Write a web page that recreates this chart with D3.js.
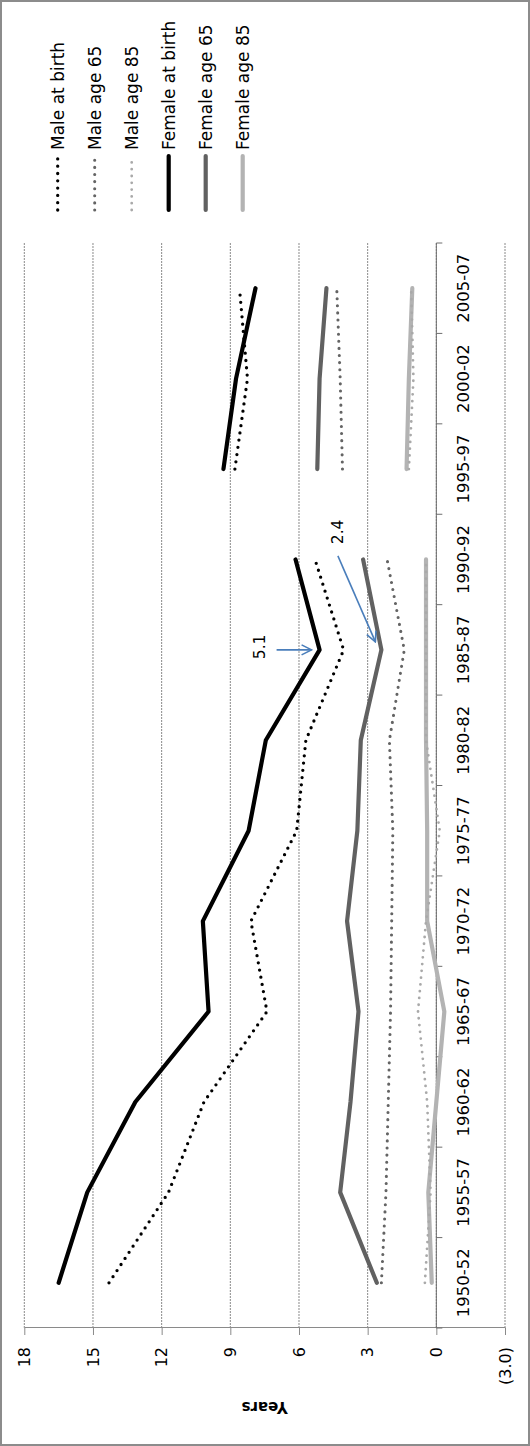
<!DOCTYPE html>
<html>
<head>
<meta charset="utf-8">
<script src="https://cdn.jsdelivr.net/npm/d3@7"></script>
<style>
    body { margin: 0; background: #fff; }
    text { font-family: "DejaVu Sans", sans-serif; fill: #000; }
</style>
</head>
<body>
<div id="chart"></div>
<script>
// data
var PERIODS = ['1950-52', '1955-57', '1960-62', '1965-67', '1970-72', '1975-77',
               '1980-82', '1985-87', '1990-92', '1995-97', '2000-02', '2005-07'];
// series are broken between 1990-92 and 1995-97
var SEGMENTS = [PERIODS.slice(0, 9), PERIODS.slice(9)];

var MALE_BIRTH    = [14.3, 11.7, 10.15, 7.4, 8.1, 6.1, 5.7, 4.05, 5.3, 8.8, 8.25, 8.6];
var MALE_65       = [2.4, 2.2, 2.1, 2.0, 1.95, 1.9, 2.05, 1.4, 2.15, 4.1, 4.2, 4.35];
var MALE_85       = [0.5, 0.25, 0.4, 0.8, 0.45, -0.15, 0.45, 0.45, 0.45, 1.2, 1.0, 1.1];
var FEMALE_BIRTH  = [16.5, 15.25, 13.15, 9.95, 10.2, 8.2, 7.45, 5.1, 6.15, 9.3, 8.75, 7.9];
var FEMALE_65     = [2.6, 4.2, 3.75, 3.4, 3.9, 3.45, 3.3, 2.4, 3.2, 5.2, 5.1, 4.8];
var FEMALE_85     = [0.2, 0.35, 0.0, -0.35, 0.4, 0.4, 0.45, 0.45, 0.45, 1.3, 1.2, 1.05];

var SERIES_NAMES = ['Male at birth', 'Male age 65', 'Male age 85',
                    'Female at birth', 'Female age 65', 'Female age 85'];
var SERIES_VALUES = [MALE_BIRTH, MALE_65, MALE_85, FEMALE_BIRTH, FEMALE_65, FEMALE_85];

var VALUE_TICKS = [18, 15, 12, 9, 6, 3, 0, -3];
var VALUE_TITLE = 'Years';

// annotated points: series, period
var NOTES = [
    {series: 'Female at birth', period: '1985-87'},
    {series: 'Female age 65', period: '1985-87'}
];

// styles
var STYLE = {
    'Male at birth':   {color: '#000000', width: 3.3, dotted: true},
    'Male age 65':     {color: '#646464', width: 3.1, dotted: true},
    'Male age 85':     {color: '#a9a9a9', width: 2.8, dotted: true},
    'Female at birth': {color: '#000000', width: 4.2, dotted: false},
    'Female age 65':   {color: '#616161', width: 4.2, dotted: false},
    'Female age 85':   {color: '#b3b3b3', width: 4.2, dotted: false}
};
var GRID_COLOR = '#8a8a8a';
var NOTE_COLOR = '#4a7ebb';

// chart is laid out sideways (1446 x 530) and turned a quarter left
var PAGE_W = 530, PAGE_H = 1446;
var PLOT = {left: 118, right: 1203, top: 24.3, bottom: 505};

var svg = d3.select('#chart').append('svg')
    .attr('width', PAGE_W)
    .attr('height', PAGE_H);

svg.append('defs').append('marker')
    .attr('id', 'arrow')
    .attr('markerUnits', 'userSpaceOnUse')
    .attr('viewBox', '0 0 12 12')
    .attr('refX', 11).attr('refY', 6)
    .attr('markerWidth', 12).attr('markerHeight', 12)
    .attr('orient', 'auto')
  .append('path')
    .attr('d', 'M1,1 L11,6 L1,11')
    .attr('fill', 'none')
    .attr('stroke', NOTE_COLOR)
    .attr('stroke-width', 1.6);

svg.append('rect')
    .attr('x', 1).attr('y', 1)
    .attr('width', PAGE_W - 2).attr('height', PAGE_H - 2)
    .attr('fill', '#fff')
    .attr('stroke', '#8c8c8c')
    .attr('stroke-width', 2);

var g = svg.append('g')
    .attr('transform', 'translate(0,' + PAGE_H + ') rotate(-90)');

var x = d3.scaleBand()
    .domain(PERIODS)
    .range([PLOT.left, PLOT.right]);
var y = d3.scaleLinear()
    .domain([d3.min(VALUE_TICKS), d3.max(VALUE_TICKS)])
    .range([PLOT.bottom, PLOT.top]);

var fmt1 = d3.format('.1f');
var value_format = function(d) {
    return d < 0 ? '(' + fmt1(-d) + ')' : d;
};

// gridlines
g.append('g').attr('id', 'grid')
    .selectAll('line')
    .data(VALUE_TICKS)
    .enter().append('line')
    .attr('x1', PLOT.left).attr('x2', PLOT.right)
    .attr('y1', function(d) { return y(d); })
    .attr('y2', function(d) { return y(d); })
    .attr('stroke', GRID_COLOR)
    .attr('stroke-width', 1)
    .attr('stroke-dasharray', '2,1');

// value axis
var axis_y = d3.axisLeft(y)
    .tickValues(VALUE_TICKS)
    .tickFormat(value_format)
    .tickSize(7)
    .tickSizeOuter(0)
    .tickPadding(12);
var y_axis = g.append('g')
    .attr('id', 'y-axis')
    .attr('transform', 'translate(' + PLOT.left + ',0)')
    .call(axis_y);
y_axis.selectAll('path, line').attr('stroke', GRID_COLOR);
y_axis.selectAll('text')
    .style('font-size', '16px')
    .style('font-family', '"DejaVu Sans", sans-serif');

g.append('text')
    .attr('transform', 'translate(39,' + ((PLOT.top + PLOT.bottom) / 2) + ') rotate(-90)')
    .attr('text-anchor', 'middle')
    .attr('dy', '0.35em')
    .style('font-size', '15px')
    .style('font-weight', 'bold')
    .text(VALUE_TITLE);

// category axis, crossing at zero
var x_axis = g.append('g')
    .attr('id', 'x-axis')
    .attr('transform', 'translate(0,' + y(0) + ')');
x_axis.append('line')
    .attr('x1', PLOT.left).attr('x2', PLOT.right)
    .attr('stroke', '#6e6e6e');
x_axis.selectAll('.tick-mark')
    .data(PERIODS.map(function(d) { return x(d); }).concat([PLOT.right]))
    .enter().append('line')
    .attr('class', 'tick-mark')
    .attr('x1', function(d) { return d; })
    .attr('x2', function(d) { return d; })
    .attr('y1', 0).attr('y2', 6)
    .attr('stroke', '#6e6e6e');
x_axis.selectAll('.label')
    .data(PERIODS)
    .enter().append('text')
    .attr('class', 'label')
    .attr('x', function(d) { return x(d) + x.bandwidth() / 2; })
    .attr('y', 21)
    .attr('dy', '0.71em')
    .attr('text-anchor', 'middle')
    .style('font-size', '16.5px')
    .text(function(d) { return d; });

// lines
var line = d3.line()
    .x(function(d) { return x(d.period) + x.bandwidth() / 2; })
    .y(function(d) { return y(d.value); });

var series = SERIES_NAMES.map(function(name, i) {
    var lookup = {};
    PERIODS.forEach(function(p, j) { lookup[p] = SERIES_VALUES[i][j]; });
    return {name: name, lookup: lookup};
});

var draw_order = [5, 4, 2, 1, 3, 0];
draw_order.forEach(function(i) {
    var s = series[i];
    var st = STYLE[s.name];
    SEGMENTS.forEach(function(seg) {
        var pts = seg.map(function(p) { return {period: p, value: s.lookup[p]}; });
        var path = g.append('path')
            .datum(pts)
            .attr('d', line)
            .attr('fill', 'none')
            .attr('stroke', st.color)
            .attr('stroke-width', st.width)
            .attr('stroke-linejoin', 'round')
            .attr('stroke-linecap', 'round');
        if (st.dotted) {
            path.attr('stroke-dasharray', '0,' + (st.width + 4));
        }
    });
});

// annotations
var note_offsets = [
    {label: [3, -60], from: [0, -43], to: [0, -8]},
    {label: [118, -44], from: [94, -43.5], to: [8, -6]}
];
NOTES.forEach(function(n, i) {
    var s = series[SERIES_NAMES.indexOf(n.series)];
    var v = s.lookup[n.period];
    var px = x(n.period) + x.bandwidth() / 2;
    var py = y(v);
    var o = note_offsets[i];
    g.append('line')
        .attr('x1', px + o.from[0]).attr('y1', py + o.from[1])
        .attr('x2', px + o.to[0]).attr('y2', py + o.to[1])
        .attr('stroke', NOTE_COLOR)
        .attr('stroke-width', 1.6)
        .attr('marker-end', 'url(#arrow)');
    g.append('text')
        .attr('x', px + o.label[0])
        .attr('y', py + o.label[1])
        .attr('dy', '0.35em')
        .attr('text-anchor', 'middle')
        .style('font-size', '15.5px')
        .text(fmt1(v));
});

// legend
var legend_y = d3.scalePoint()
    .domain(SERIES_NAMES)
    .range([57.7, 242.7]);
var legend = g.append('g').attr('id', 'legend')
    .selectAll('g')
    .data(SERIES_NAMES)
    .enter().append('g')
    .attr('transform', function(d) { return 'translate(0,' + legend_y(d) + ')'; });
legend.append('line')
    .attr('x1', 1236).attr('x2', 1290)
    .attr('stroke', function(d) { return STYLE[d].color; })
    .attr('stroke-width', function(d) { return STYLE[d].width; })
    .attr('stroke-linecap', 'round')
    .attr('stroke-dasharray', function(d) {
        return STYLE[d].dotted ? '0,' + (STYLE[d].width + 4) : null;
    });
legend.append('text')
    .attr('x', 1296)
    .attr('dy', '0.36em')
    .style('font-size', '17px')
    .text(function(d) { return d; });
</script>
</body>
</html>
